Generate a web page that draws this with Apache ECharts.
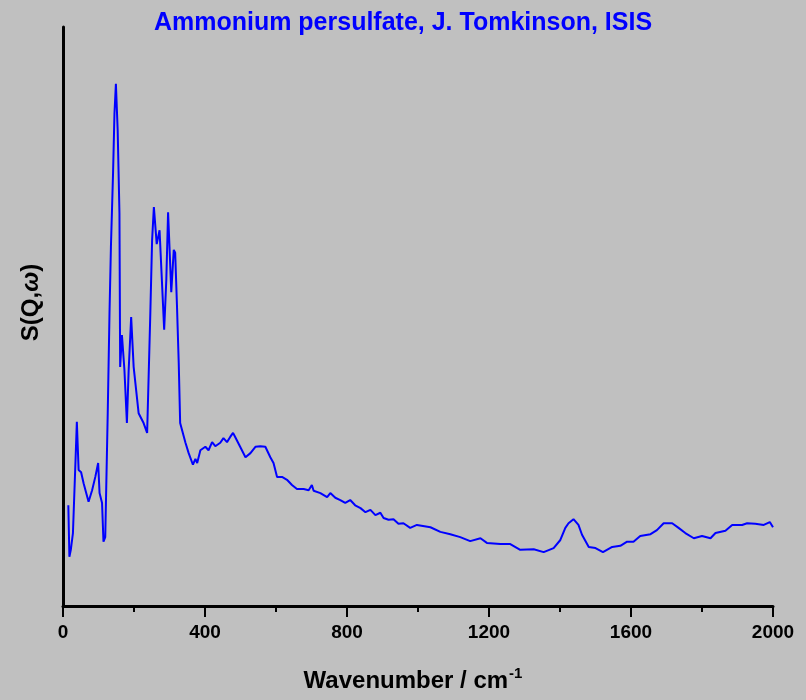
<!DOCTYPE html>
<html>
<head>
<meta charset="utf-8">
<script src="https://cdn.jsdelivr.net/npm/echarts@6/dist/echarts.min.js"></script>
<style>
  html, body { margin: 0; padding: 0; background: #c0c0c0; }
  #chart { width: 806px; height: 700px; }
</style>
</head>
<body>
<div id="chart"></div>
<script>
// wavenumber (cm-1) and S(Q,w) in arbitrary units
const wavenumber = [
    15, 18, 22, 28, 35, 39, 44, 51, 58, 72, 82, 91, 99, 103, 110, 114, 119,
    126, 131, 135, 141, 145, 149, 154, 159, 161, 166, 173, 180, 185, 192, 199,
    213, 227, 237, 246, 251, 256, 264, 272, 285, 291, 296, 300, 305, 312, 316,
    321, 326, 330, 345, 354, 366, 373, 378, 387, 401, 410, 420, 429, 443, 452,
    462, 471, 479, 485, 490, 499, 514, 528, 542, 556, 570, 584, 593, 603, 617,
    631, 645, 659, 678, 692, 701, 706, 725, 744, 753, 767, 781, 795, 809, 823,
    838, 852, 866, 880, 894, 903, 917, 931, 945, 959, 978, 997, 1035, 1063,
    1091, 1119, 1147, 1176, 1194, 1232, 1260, 1288, 1326, 1354, 1382, 1401,
    1415, 1424, 1438, 1452, 1462, 1481, 1500, 1521, 1547, 1570, 1589, 1607,
    1626, 1655, 1673, 1692, 1716, 1734, 1753, 1777, 1800, 1824, 1838, 1866,
    1885, 1913, 1927, 1950, 1974, 1991, 2000
];
const intensity = [
    17.4, 8.5, 9.7, 12.6, 24.7, 31.8, 23.5, 23.1, 21.2, 18.0, 20.0, 22.3, 24.7,
    19.5, 17.8, 11.1, 11.9, 33.3, 50.6, 62.0, 74.8, 85.1, 90.2, 82.2, 67.9,
    41.3, 46.8, 40.8, 31.6, 40.8, 49.9, 41.3, 33.3, 31.6, 29.9, 50.6, 63.2,
    68.9, 62.5, 64.9, 47.7, 56.3, 68.0, 62.0, 54.2, 61.5, 61.0, 52.0, 42.0,
    31.6, 28.2, 26.4, 24.4, 25.4, 24.7, 26.9, 27.5, 26.9, 28.3, 27.6, 28.2,
    29.0, 28.3, 29.2, 29.9, 29.2, 29.5, 27.5, 25.7, 26.4, 27.5, 27.6, 27.5,
    25.7, 24.7, 22.3, 22.3, 21.8, 20.9, 20.2, 20.2, 20.0, 20.9, 19.9, 19.5,
    18.8, 19.5, 18.7, 18.3, 17.8, 18.3, 17.4, 16.9, 16.2, 16.6, 15.7, 16.1,
    15.2, 14.9, 15.0, 14.2, 14.3, 13.5, 14.0, 13.6, 12.8, 12.4, 11.9, 11.2,
    11.7, 10.9, 10.7, 10.7, 9.7, 9.8, 9.3, 10.0, 11.4, 13.5, 14.3, 15.0, 14.0,
    12.3, 10.2, 10.0, 9.3, 10.2, 10.4, 11.1, 11.1, 12.1, 12.4, 13.1, 14.3,
    14.3, 13.5, 12.6, 11.7, 12.1, 11.7, 12.6, 13.0, 14.0, 14.0, 14.3, 14.2,
    14.0, 14.5, 13.6
];
const xTicks = [0, 400, 800, 1200, 1600, 2000];

const chart = echarts.init(document.getElementById("chart"));
const font = "Arial, 'Liberation Sans', sans-serif";

const option = {
    backgroundColor: "#c0c0c0",
    animation: false,
    title: {
        text: "Ammonium persulfate, J. Tomkinson, ISIS",
        left: "center",
        top: 6,
        textStyle: { color: "#0000ff", fontSize: 25, fontWeight: "bold", fontFamily: font }
    },
    grid: { left: 63, right: 33, top: 27, bottom: 94 },
    xAxis: {
        type: "value",
        min: xTicks[0],
        max: xTicks[xTicks.length - 1],
        interval: xTicks[1] - xTicks[0],
        name: "{n|Wavenumber / cm}{s|-1}",
        nameLocation: "middle",
        nameGap: 60,
        nameTextStyle: {
            padding: [0, 10, 0, 0],
            rich: {
                n: { fontSize: 24, fontWeight: "bold", color: "#000", fontFamily: font },
                s: { fontSize: 15, fontWeight: "bold", color: "#000", fontFamily: font, verticalAlign: "top", padding: [0, 0, 16, 1] }
            }
        },
        axisLine: { lineStyle: { color: "#000", width: 3 } },
        axisTick: { inside: false, length: 11, lineStyle: { color: "#000", width: 2 } },
        minorTick: { show: true, splitNumber: 2, length: 6, lineStyle: { color: "#000", width: 2 } },
        axisLabel: {
            color: "#000", fontSize: 19, fontWeight: "bold", fontFamily: font, margin: 17,
            formatter: v => String(v)
        },
        splitLine: { show: false }
    },
    yAxis: {
        type: "value",
        min: 0,
        max: 100,
        name: "{n|S(Q,}{w|ω}{n|)}",
        nameLocation: "middle",
        nameGap: 20,
        nameRotate: 90,
        nameTextStyle: {
            padding: [0, 0, 0, 28],
            rich: {
                n: { fontSize: 24, fontWeight: "bold", color: "#000", fontFamily: font },
                w: { fontSize: 24, fontWeight: "bold", fontStyle: "italic", color: "#000", fontFamily: font }
            }
        },
        axisLine: { show: true, lineStyle: { color: "#000", width: 3 } },
        axisTick: { show: false },
        axisLabel: { show: false },
        splitLine: { show: false }
    },
    series: [{
        type: "line",
        data: wavenumber.map((w, i) => [w, intensity[i]]),
        showSymbol: false,
        lineStyle: { color: "#0000ff", width: 2 }
    }]
};
chart.setOption(option);
</script>
</body>
</html>
